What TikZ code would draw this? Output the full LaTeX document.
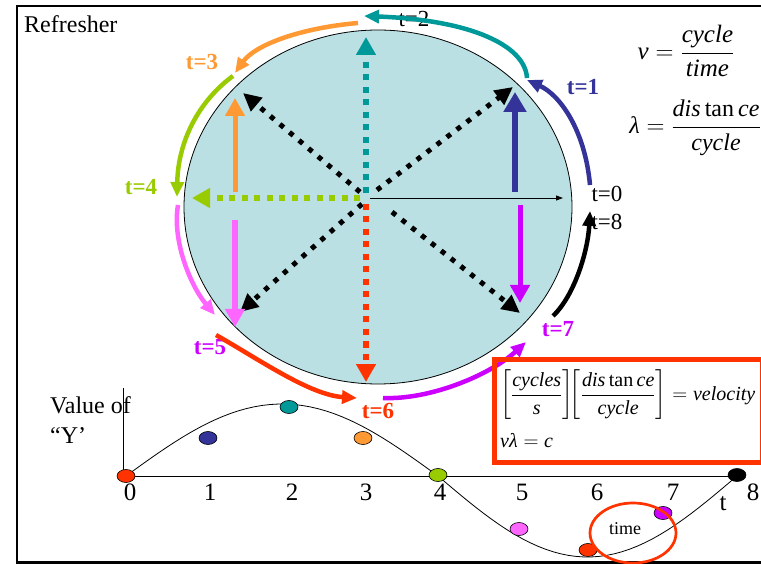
\documentclass[tikz,border=0pt]{standalone}
\usepackage{fontspec}
\setmainfont{Liberation Serif}
\usepackage{amsmath}
\usetikzlibrary{arrows.meta, positioning, shapes.geometric}
\definecolor{wheelfill}{HTML}{BBE0E3}
\definecolor{tteal}{HTML}{009999}
\definecolor{tblue}{HTML}{333399}
\definecolor{torange}{HTML}{FF9933}
\definecolor{tgreen}{HTML}{99CC00}
\definecolor{tpink}{HTML}{FF66FF}
\definecolor{tred}{HTML}{FF3300}
\definecolor{tmagenta}{HTML}{CC00FF}

\begin{document}
\begin{tikzpicture}[x=1pt, y=-1pt,
    >={Triangle[length=15pt, width=13pt]},
    every node/.style={inner sep=0pt},
    tlabel/.style={font=\fontsize{23}{23}\selectfont\bfseries, anchor=base},
    tplain/.style={font=\fontsize{23}{23}\selectfont, anchor=base},
    ticknum/.style={font=\fontsize{25}{25}\selectfont, anchor=base},
    bigtext/.style={font=\fontsize{24}{30}\selectfont, anchor=base west},
    ray/.style={line width=5pt, dash pattern=on 5pt off 7.5pt,
                -{Triangle[length=18pt, width=17pt]}},
    sqray/.style={line width=6pt, dash pattern=on 6pt off 6.5pt,
                -{Triangle[length=18pt, width=19pt]}},
    hand/.style={-{Triangle[length=18pt, width=19pt]}},
    orbit/.style={line width=4.5pt, ->},
    dot/.style={ellipse, draw, line width=0.6pt,
                minimum width=18pt, minimum height=13pt},
]
\useasboundingbox (0,0) rectangle (761,564);
% frame
\draw[line width=2.4pt] (765,6) -- (17,6) -- (17,562.5) -- (765,562.5);
\node[bigtext] (title) at (24,33) {Refresher};

% the wheel
\node[ellipse, draw, fill=wheelfill, line width=0.8pt,
      minimum width=388pt, minimum height=354pt] (wheel) at (378,207) {};
\coordinate (hub) at (366,198);

% dotted spokes
\draw[ray] (377,190) -- (513,87);
\draw[ray] (360,192) -- (243,93);
\draw[ray] (362,204) -- (240,312);
\draw[ray] (392,212) -- (520,313);
\draw[sqray, tteal]  (hub) ++(0,-5) -- (366,37);
\draw[sqray, tgreen] (hub) ++(-6,0) -- (192,198);
\draw[sqray, tred]   (hub) ++(0,6) -- (366,382);
\draw[line width=0.9pt, -{Triangle[length=7pt, width=5pt]}] (370,198) -- (563,198);

% vertical components
\draw[hand, torange, line width=5pt]    (235,192) -- (235,98);
\draw[hand, tpink, line width=5.5pt]    (235,220) -- (235,327);
\draw[hand, tblue, line width=6.5pt,
      -{Triangle[length=20pt, width=22pt]}] (515,192) -- (515,92);
\draw[hand, tmagenta, line width=5pt]   (520,205) -- (520,303);

% time labels
\node[tplain] (l2) at (414,27) {t=2};
\node[tlabel, torange]  (l3) at (202,70)  {t=3};
\node[tlabel, tblue]    (l1) at (583,95)  {t=1};
\node[tlabel, tgreen]   (l4) at (141,195) {t=4};
\node[tplain] (l0) at (607,202) {t=0};
\node[tplain] (l8) at (607,230) {t=8};
\node[tlabel, tmagenta] (l5) at (210,355) {t=5};
\node[tlabel, tred]     (l6) at (378,418) {t=6};
\node[tlabel, tmagenta] (l7) at (558,337) {t=7};

% orbit around the wheel
\coordinate (o0) at (590,185);  \coordinate (o1) at (527,80);
\coordinate (o1b) at (527,78);  \coordinate (o2) at (364,16);
\coordinate (o2b) at (358,23);  \coordinate (o3) at (235,73);
\coordinate (o3b) at (233,76);  \coordinate (o4) at (177,197);
\coordinate (o4b) at (178,205); \coordinate (o5) at (215,315);
\coordinate (o5b) at (216,335); \coordinate (o6) at (357,398);
\coordinate (o6b) at (383,398); \coordinate (o7) at (526,342);
\coordinate (o7b) at (553,316); \coordinate (o8) at (590,211);
\draw[orbit, tblue]    (o0)  .. controls (585,130) and (560,95)  .. (o1);
\draw[orbit, tteal]    (o1b) .. controls (525,45)  and (470,20)  .. (o2);
\draw[orbit, torange]  (o2b) .. controls (300,28)  and (255,45)  .. (o3);
\draw[orbit, tgreen]   (o3b) .. controls (200,100) and (178,140) .. (o4);
\draw[orbit, tpink]    (o4b) .. controls (172,240) and (190,285) .. (o5);
\draw[orbit, tred]     (o5b) .. controls (260,360) and (310,395) .. (o6);
\draw[orbit, tmagenta] (o6b) .. controls (430,400) and (490,375) .. (o7);
\draw[orbit, black]    (o7b) .. controls (575,295) and (588,250) .. (o8);

% formulas
\node[font=\fontsize{25}{30}\selectfont] (freq) at (686,51)
  {$\textit{ν} = \dfrac{\textit{cycle}}{\textit{time}}$};
\node[font=\fontsize{24}{30}\selectfont] (wavelen) at (695,128)
  {$\textit{λ} = \dfrac{\textit{dis}\,\text{tan}\,\textit{ce}}{\textit{cycle}}$};

\node[draw=tred, line width=5pt, minimum width=268pt, minimum height=103pt,
      anchor=north west] (box) at (492,357) {};
\node[font=\fontsize{20}{24}\selectfont, anchor=west] (units) at (500,395)
  {$\left[\dfrac{\textit{cycles}}{\textit{s}}\right]\!\!\left[\dfrac{\textit{dis}\,\text{tan}\,\textit{ce}}{\textit{cycle}}\right] = \textit{velocity}$};
\node[font=\fontsize{20}{24}\selectfont, anchor=base west] (speed) at (500,447)
  {$\textit{νλ} = \textit{c}$};

% graph of Y against t
\draw[line width=0.8pt] (123,388) -- (123,476) -- (737,476);
\draw[line width=0.8pt] plot[domain=0:180, samples=40]
  ({126+\x/180*312}, {476-72*sin(\x)});
\draw[line width=0.8pt] plot[domain=180:360, samples=40]
  ({438+(\x-180)/180*299}, {476-81*sin(\x)});
\node[bigtext] (yval) at (50,413) {Value of};
\node[bigtext] (yname) at (50,443) {“Y’};
\foreach \n/\x in {0/130, 1/210, 2/292, 3/366, 4/440, 5/522, 6/597, 7/673, 8/753}
  \node[ticknum] (n\n) at (\x,500) {\n};
\node[ticknum] (tname) at (723,510) {t};
\foreach \i/\x/\y/\c in {0/126/476/tred, 1/208/438/tblue, 2/289/407/tteal,
    3/363/438/torange, 4/438/475/tgreen, 5/519/529/tpink, 6/588/550/tred,
    7/663/513/tmagenta, 8/737/475/black}
  \node[dot, fill=\c] (d\i) at (\x,\y) {};
\draw[tred, line width=2.7pt] (633,533) ellipse (43 and 30);
\node[font=\fontsize{18}{18}\selectfont] (clock) at (625,529) {time};
\end{tikzpicture}
\end{document}
